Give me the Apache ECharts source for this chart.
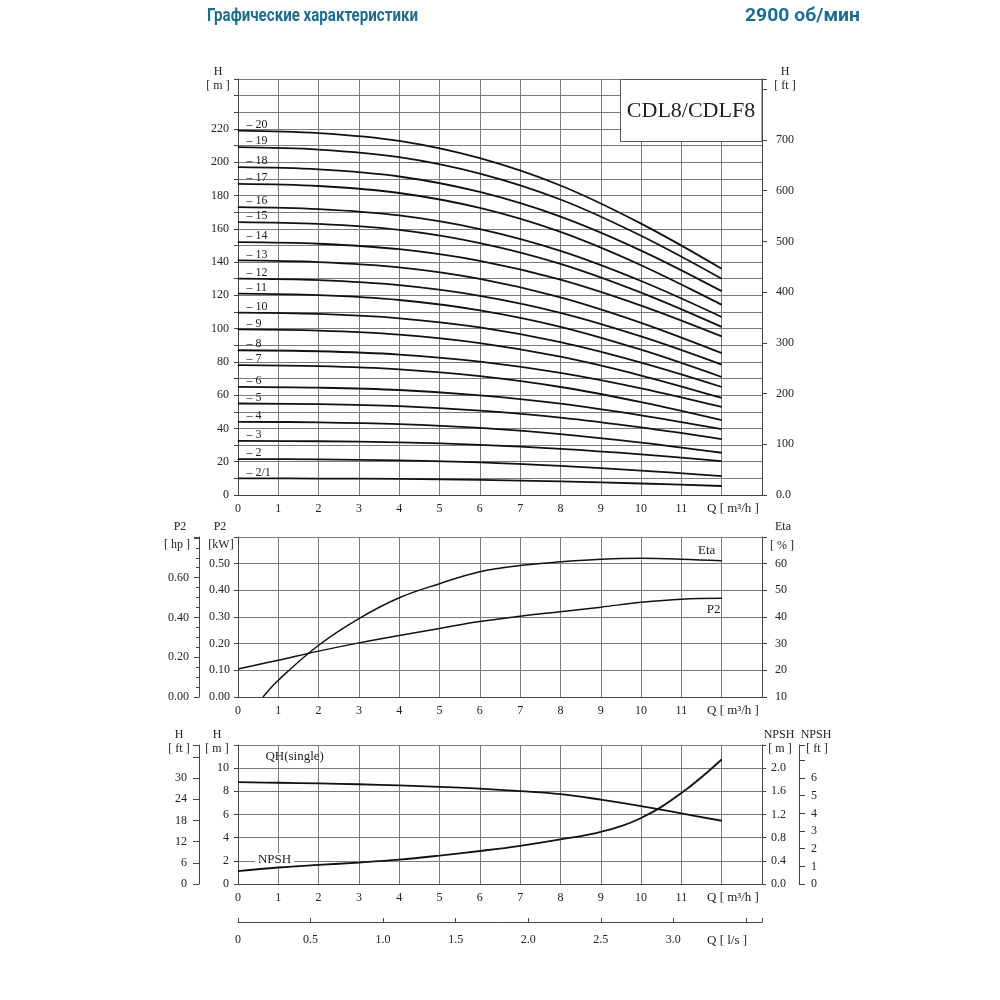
<!DOCTYPE html>
<html><head><meta charset="utf-8">
<script src="https://cdn.jsdelivr.net/npm/echarts/dist/echarts.min.js"></script>
<style>html,body{margin:0;padding:0;background:#fff}#c{width:1000px;height:1000px}</style>
</head><body><div id="c"></div>
<script>
// ---- data ----
const qTop = [0, 2, 4, 6, 8, 10, 12];
const stageLabels = ['20','19','18','17','16','15','14','13','12','11','10','9','8','7','6','5','4','3','2','2/1'];
const h20 = [219, 217.5, 212.8, 202.4, 186, 163.1, 136];
const h19 = [209, 207.6, 203.1, 193.2, 177.6, 155.8, 130];
const h18 = [197, 195.7, 191.4, 182.1, 167.3, 146.9, 122.5];
const h17 = [187, 185.7, 181.5, 172.5, 158.1, 138.1, 114.3];
const h16 = [173, 171.8, 168, 159.8, 146.7, 128.6, 107];
const h15 = [164, 162.9, 159.3, 151.4, 138.9, 121.6, 101];
const h14 = [152, 151, 147.7, 140.7, 129.4, 113.8, 95.3];
const h13 = [141, 140, 136.8, 129.9, 118.8, 103.5, 85.3];
const h12 = [130, 129.1, 126.1, 119.7, 109.5, 95.3, 78.4];
const h11 = [121, 120.1, 117.2, 111, 101.1, 87.3, 70.9];
const h10 = [109.6, 108.8, 106.2, 100.7, 91.8, 79.5, 64.9];
const h9 = [99.5, 98.8, 96.4, 91.3, 83.1, 71.8, 58.3];
const h8 = [87, 86.4, 84.4, 80.2, 73.4, 64.1, 52.9];
const h7 = [78, 77.4, 75.5, 71.4, 64.9, 55.8, 45];
const h6 = [65, 64.5, 63.1, 59.9, 54.9, 47.9, 39.6];
const h5 = [55, 54.6, 53.4, 50.7, 46.5, 40.6, 33.6];
const h4 = [44, 43.7, 42.6, 40.3, 36.6, 31.5, 25.4];
const h3 = [32.5, 32.3, 31.6, 30.1, 27.7, 24.4, 20.4];
const h2 = [21.6, 21.4, 20.8, 19.6, 17.5, 14.7, 11.4];
const h1 = [10, 9.9, 9.7, 9.1, 8.2, 6.9, 5.4];
const headCurves = [h20,h19,h18,h17,h16,h15,h14,h13,h12,h11,h10,h9,h8,h7,h6,h5,h4,h3,h2,h1];

const qFlow = [0,1,2,3,4,5,6,7,8,9,10,11,12];
const p2Power = [0.105,0.138,0.172,0.203,0.231,0.257,0.283,0.303,0.320,0.337,0.355,0.367,0.370];
const etaQ = [0.62,1,2,3,4,5,6,7,8,9,10,11,12];
const etaValues = [10,16.3,29.4,39.4,47.2,52.5,57,59.3,60.7,61.7,62,61.7,61.1];
const qhSingle = [8.8,8.74,8.68,8.61,8.51,8.39,8.23,8.02,7.76,7.28,6.72,6.09,5.46];
const npshValues = [0.222,0.285,0.33,0.37,0.42,0.49,0.57,0.66,0.77,0.90,1.14,1.57,2.15];

const qLastLabel = 11;       // last numbered Q tick (m3/h)
const lsLastLabel = 3.0;     // last numbered Q tick (l/s)

// ---- styling ----
const SERIF = '"Liberation Serif","Times New Roman",serif';
const TXT = '#222';
const GRIDC = '#7a7a7a';
const AXC = '#444';

const chart = echarts.init(document.getElementById('c'), null, {renderer:'canvas'});

function xAxisQ(gi){
  return {
    type:'value', gridIndex:gi, min:0, max:13, interval:1,
    axisLine:{show:true, lineStyle:{color:AXC, width:1}},
    axisTick:{show:false},
    axisLabel:{show:true, showMinLabel:true, showMaxLabel:true, margin:8, fontFamily:SERIF, fontSize:12, color:TXT,
      formatter:v=> v<=qLastLabel ? String(v) : ''},
    splitLine:{show:true, lineStyle:{color:GRIDC, width:1}},
    name:'Q [ m³/h ]', nameLocation:'end', nameGap:-55,
    nameTextStyle:{fontFamily:SERIF, fontSize:13, color:TXT, align:'left', verticalAlign:'top', padding:[7,0,0,0]}
  };
}
function yBase(gi, o){
  return Object.assign({
    type:'value', gridIndex:gi,
    axisLine:{show:true, lineStyle:{color:AXC, width:1}},
    axisTick:{show:true, inside:false, length:4, lineStyle:{color:AXC}},
    axisLabel:{show:true, showMinLabel:true, showMaxLabel:true, margin:8, fontFamily:SERIF, fontSize:12, color:TXT},
    splitLine:{show:false}
  }, o);
}
function labelledPoint(value, label){
  return {value, symbol:'circle', symbolSize:1, itemStyle:{color:'#111'},
    label:Object.assign({show:true, fontFamily:SERIF, color:TXT}, label)};
}

const series = [];
headCurves.forEach((arr, idx)=>{
  const data = qTop.map((q,i)=>[q, arr[i]]);
  data[0] = labelledPoint(data[0], {position:'right', distance:8, offset:[0,-6], fontSize:12, formatter:'– '+stageLabels[idx]});
  series.push({type:'line', xAxisIndex:0, yAxisIndex:0, data, smooth:0.35, showSymbol:true, symbol:'none',
    lineStyle:{color:'#111', width:1.8}, silent:true, animation:false, label:{show:false}});
});

const p2Data = qFlow.map((q,i)=>[q,p2Power[i]]);
p2Data[p2Data.length-1] = labelledPoint(p2Data[p2Data.length-1], {position:'bottom', distance:4, offset:[-8,0], fontSize:13, formatter:'P2'});
series.push({type:'line', xAxisIndex:1, yAxisIndex:2, data:p2Data, smooth:0.4, symbol:'none', showSymbol:true,
  lineStyle:{color:'#111', width:1.5}, animation:false, label:{show:false}});

const etaData = etaQ.map((q,i)=>[q,etaValues[i]]);
etaData[etaData.length-1] = labelledPoint(etaData[etaData.length-1], {position:'top', distance:3, offset:[-15,0], fontSize:13, formatter:'Eta'});
series.push({type:'line', xAxisIndex:1, yAxisIndex:3, data:etaData, smooth:0.4, symbol:'none', showSymbol:true,
  lineStyle:{color:'#111', width:1.5}, animation:false, label:{show:false}});

series.push({type:'line', xAxisIndex:2, yAxisIndex:5, data:qFlow.map((q,i)=>[q,qhSingle[i]]), smooth:0.4, symbol:'none', showSymbol:false,
  lineStyle:{color:'#111', width:1.8}, animation:false});
series.push({type:'line', xAxisIndex:2, yAxisIndex:6, data:qFlow.map((q,i)=>[q,npshValues[i]]), smooth:0.4, symbol:'none', showSymbol:false,
  lineStyle:{color:'#111', width:1.8}, animation:false});

const option = {
  backgroundColor:'#fff',
  animation:false,
  textStyle:{fontFamily:SERIF},
  grid:[
    {left:238, top:79, width:524, height:416, containLabel:false, outerBoundsMode:'none'},
    {left:238, top:537, width:524, height:160, containLabel:false, outerBoundsMode:'none'},
    {left:238, top:745, width:524, height:139, containLabel:false, outerBoundsMode:'none'},
    {left:238, top:921, width:524, height:1, containLabel:false, outerBoundsMode:'none'}
  ],
  xAxis:[
    xAxisQ(0), xAxisQ(1), xAxisQ(2),
    {type:'value', gridIndex:3, min:0, max:13/3.6, interval:0.5,
      axisLine:{show:true, lineStyle:{color:AXC, width:1}},
      axisTick:{show:true, inside:true, length:4, lineStyle:{color:AXC}},
      axisLabel:{show:true, showMinLabel:true, showMaxLabel:true, margin:12, fontFamily:SERIF, fontSize:12, color:TXT,
        formatter:v=> v===0 ? '0' : (v<=lsLastLabel+1e-9 ? v.toFixed(1) : '')},
      splitLine:{show:false},
      name:'Q [ l/s ]', nameLocation:'end', nameGap:-55,
      nameTextStyle:{fontFamily:SERIF, fontSize:13, color:TXT, align:'left', verticalAlign:'top', padding:[12,0,0,0]}}
  ],
  yAxis:[
    yBase(0,{position:'left', min:0, max:250, interval:10,
      axisLabel:{show:true, margin:9, fontFamily:SERIF, fontSize:12, color:TXT, formatter:v=> (v%20===0 && v<=220) ? String(v) : ''},
      splitLine:{show:true, lineStyle:{color:GRIDC, width:1}}}),
    yBase(0,{position:'right', min:0, max:250*3.28084, interval:100,
      axisTick:{show:true, length:5, lineStyle:{color:AXC}},
      axisLabel:{show:true, margin:14, fontFamily:SERIF, fontSize:12, color:TXT, formatter:v=> v===0 ? '0.0' : (v<=700 ? String(v) : '')}}),
    yBase(1,{position:'left', min:0, max:0.6, interval:0.1,
      axisLabel:{show:true, margin:8, fontFamily:SERIF, fontSize:12, color:TXT, formatter:v=> v<0.55 ? v.toFixed(2) : ''},
      splitLine:{show:true, lineStyle:{color:GRIDC, width:1}}}),
    yBase(1,{position:'right', min:10, max:70, interval:10,
      axisTick:{show:true, length:5, lineStyle:{color:AXC}},
      axisLabel:{show:true, margin:13, fontFamily:SERIF, fontSize:12, color:TXT, formatter:v=> v<=60 ? String(v) : ''}}),
    yBase(1,{position:'left', offset:39, min:0, max:0.6*1.34102, interval:0.2,
      axisTick:{show:true, length:5, lineStyle:{color:AXC}},
      minorTick:{show:true, splitNumber:4, length:3, lineStyle:{color:AXC}},
      axisLabel:{show:true, margin:10, fontFamily:SERIF, fontSize:12, color:TXT, formatter:v=> v<=0.61 ? v.toFixed(2) : ''}}),
    yBase(2,{position:'left', min:0, max:12, interval:2,
      axisLabel:{show:true, margin:9, fontFamily:SERIF, fontSize:12, color:TXT, formatter:v=> v<=10 ? String(v) : ''},
      splitLine:{show:true, lineStyle:{color:GRIDC, width:1}}}),
    yBase(2,{position:'right', min:0, max:2.4, interval:0.4,
      axisTick:{show:true, length:4, lineStyle:{color:AXC}},
      axisLabel:{show:true, margin:9, fontFamily:SERIF, fontSize:12, color:TXT, formatter:v=> v<=2.01 ? v.toFixed(1) : ''}}),
    yBase(2,{position:'left', offset:39, min:0, max:12*3.28084, interval:6,
      axisTick:{show:true, length:6, lineStyle:{color:AXC}},
      axisLabel:{show:true, margin:12, fontFamily:SERIF, fontSize:12, color:TXT, formatter:v=> v<=30 ? String(v) : ''}}),
    yBase(2,{position:'right', offset:37, min:0, max:2.4*3.28084, interval:1,
      axisTick:{show:true, length:6, lineStyle:{color:AXC}},
      axisLabel:{show:true, margin:12, fontFamily:SERIF, fontSize:12, color:TXT, formatter:v=> v<=6 ? String(v) : ''}}),
    {type:'value', gridIndex:3, show:false, min:0, max:1}
  ],
  series
};
chart.setOption(option);

// ---- text annotations ----
function t(x, y, text, o){
  return Object.assign({type:'text', x, y, z:100, silent:true,
    style:{text, fill:TXT, font:'12px '+SERIF, align:'center', verticalAlign:'middle'}}, o||{});
}
function measure(text, font){
  const ctx = document.createElement('canvas').getContext('2d');
  ctx.font = font; return ctx.measureText(text).width;
}
const qhPos = chart.convertToPixel({xAxisIndex:2, yAxisIndex:5}, [0.68, 11]);
const npPos = chart.convertToPixel({xAxisIndex:2, yAxisIndex:5}, [0.42, 2]);
const titleFont = 'bold 19px Roboto, "Open Sans", sans-serif';
const title1 = 'Графические характеристики', title2 = '2900 об/мин';
const s1 = 211 / measure(title1, titleFont), s2 = 115 / measure(title2, titleFont);
chart.setOption({graphic:[
  {type:'text', x:207, y:16, z:100, scaleX:s1, style:{text:title1, fill:'#1f6d8c', font:titleFont, align:'left', verticalAlign:'middle'}},
  {type:'text', x:860, y:16, z:100, scaleX:s2, style:{text:title2, fill:'#1f6d8c', font:titleFont, align:'right', verticalAlign:'middle'}},
  {type:'rect', z:90, shape:{x:620.5, y:79.5, width:141.5, height:62}, style:{fill:'#fff', stroke:'#555', lineWidth:1}},
  t(691, 111, 'CDL8/CDLF8', {style:{text:'CDL8/CDLF8', fill:TXT, font:'22px '+SERIF, align:'center', verticalAlign:'middle'}}),
  t(218, 72, 'H'), t(218, 86, '[ m ]'),
  t(785, 72, 'H'), t(785, 86, '[ ft ]'),
  t(180, 527, 'P2'), t(177, 545, '[ hp ]'),
  t(220, 527, 'P2'), t(221, 545, '[kW]'),
  t(783, 527, 'Eta'), t(782, 546, '[ % ]'),
  t(179, 735, 'H'), t(179, 749, '[ ft ]'),
  t(217, 735, 'H'), t(217, 749, '[ m ]'),
  t(779, 735, 'NPSH'), t(780, 749, '[ m ]'),
  t(816, 735, 'NPSH'), t(817, 749, '[ ft ]'),
  {type:'text', x:qhPos[0], y:qhPos[1], z:100, style:{text:'QH(single)', fill:TXT, font:'13px '+SERIF, align:'left', verticalAlign:'middle'}},
  {type:'text', x:npPos[0], y:npPos[1]-1, z:1, style:{text:'NPSH', fill:TXT, font:'13px '+SERIF, align:'left', verticalAlign:'middle', backgroundColor:'#fff', padding:[0,3,0,3]}}
]});
</script>
</body></html>
